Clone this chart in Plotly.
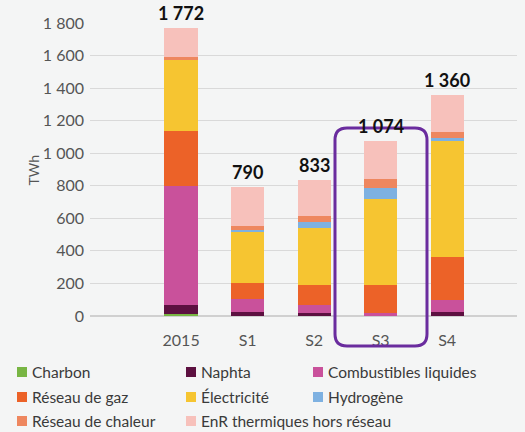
import plotly.graph_objects as go

# Scenarios
scenarios = ["2015", "S1", "S2", "S3", "S4"]
totals = [1772, 790, 833, 1074, 1360]
total_labels = ["1 772", "790", "833", "1 074", "1 360"]

# TWh by energy carrier (bottom to top of the stack)
charbon = [12, 0, 0, 0, 0]
naphta = [55, 23, 17, 0, 25]
combustibles_liquides = [730, 82, 48, 20, 71]
reseau_gaz = [338, 100, 125, 173, 266]
electricite = [437, 310, 348, 524, 713]
hydrogene = [0, 15, 40, 69, 16]
reseau_chaleur = [20, 25, 35, 58, 37]
enr_thermiques = [180, 235, 220, 230, 232]

y_ticks = [0, 200, 400, 600, 800, 1000, 1200, 1400, 1600, 1800]
y_ticktext = ["0", "200", "400", "600", "800", "1 000", "1 200",
              "1 400", "1 600", "1 800"]

series = [
    ("Charbon", charbon, "#78b543"),
    ("Naphta", naphta, "#5c1040"),
    ("Combustibles liquides", combustibles_liquides, "#c9519b"),
    ("Réseau de gaz", reseau_gaz, "#ec6228"),
    ("Électricité", electricite, "#f6c531"),
    ("Hydrogène", hydrogene, "#7eb1e1"),
    ("Réseau de chaleur", reseau_chaleur, "#ee875f"),
    ("EnR thermiques hors réseau", enr_thermiques, "#f7c1bb"),
]

FONT = "Lato, 'Noto Sans', sans-serif"
BG = "#f4f5f5"
W, H = 525, 432
ML, MR, MT, MB = 90, 8, 23, 116
PW, PH = W - ML - MR, H - MT - MB


def px_x(px):
    return (px - ML) / PW


def px_y(py):
    return (H - MB - py) / PH


fig = go.Figure()
for name, vals, color in series:
    fig.add_trace(go.Bar(x=scenarios, y=vals, name=name, marker_color=color,
                         marker_line_width=0, width=0.5, hoverinfo="skip"))

# totals above the bars
for i, (t, lab) in enumerate(zip(totals, total_labels)):
    fig.add_annotation(x=i, y=t, text="<b>%s</b>" % lab, showarrow=False,
                       yanchor="bottom", yshift=2,
                       font=dict(family=FONT, size=18, color="#111111"))

# y title
fig.add_annotation(x=px_x(22), y=px_y(170), xref="paper", yref="paper",
                   text="TWh", textangle=-90, showarrow=False,
                   font=dict(family=FONT, size=14, color="#555555"))

# purple rounded frame around S3
x0, x1, y0, y1 = px_x(335), px_x(427), px_y(346), px_y(128)
rx, ry = 12 / PW, 12 / PH
path = ("M %f,%f L %f,%f Q %f,%f %f,%f L %f,%f Q %f,%f %f,%f "
        "L %f,%f Q %f,%f %f,%f L %f,%f Q %f,%f %f,%f Z") % (
    x0 + rx, y1, x1 - rx, y1, x1, y1, x1, y1 - ry,
    x1, y0 + ry, x1, y0, x1 - rx, y0,
    x0 + rx, y0, x0, y0, x0, y0 + ry,
    x0, y1 - ry, x0, y1, x0 + rx, y1)
fig.add_shape(type="path", path=path, xref="paper", yref="paper",
              line=dict(color="#6a2c9e", width=3))

# legend in three columns, drawn below the plot
col_x = [17, 186, 313]
row_y = [372, 397, 421]
for k, (name, vals, color) in enumerate(series):
    cx, ry_ = col_x[k % 3], row_y[k // 3]
    fig.add_shape(type="rect", xref="paper", yref="paper",
                  x0=px_x(cx), x1=px_x(cx + 10), y0=px_y(ry_ + 5), y1=px_y(ry_ - 5),
                  fillcolor=color, line_width=0)
    fig.add_annotation(x=px_x(cx + 13), y=px_y(ry_), xref="paper", yref="paper",
                       text=name, showarrow=False, xanchor="left", yanchor="middle",
                       font=dict(family=FONT, size=15.5, color="#3a3a3a"))

fig.update_layout(
    width=W, height=H,
    margin=dict(l=ML, r=MR, t=MT, b=MB, autoexpand=False),
    paper_bgcolor=BG, plot_bgcolor=BG,
    barmode="stack",
    font=dict(family=FONT),
    showlegend=False,
    xaxis=dict(type="category", range=[-1.37, 5.05], showgrid=False,
               zeroline=False, showline=False, ticks="", ticklabelstandoff=13,
               tickfont=dict(family=FONT, size=16, color="#555555")),
    yaxis=dict(range=[0, 1800], tickvals=y_ticks, ticktext=y_ticktext,
               showgrid=True, gridcolor="#d9d9d9", gridwidth=1,
               zeroline=True, zerolinecolor="#d0d0d0", showline=False,
               ticks="", ticklabelstandoff=5,
               tickfont=dict(family=FONT, size=16, color="#555555")),
)

# page body has a default 8px margin; drop it so the figure fills the window
fig.write_html("out.html", config={"displayModeBar": False},
               post_script="document.body.style.margin='0';")
